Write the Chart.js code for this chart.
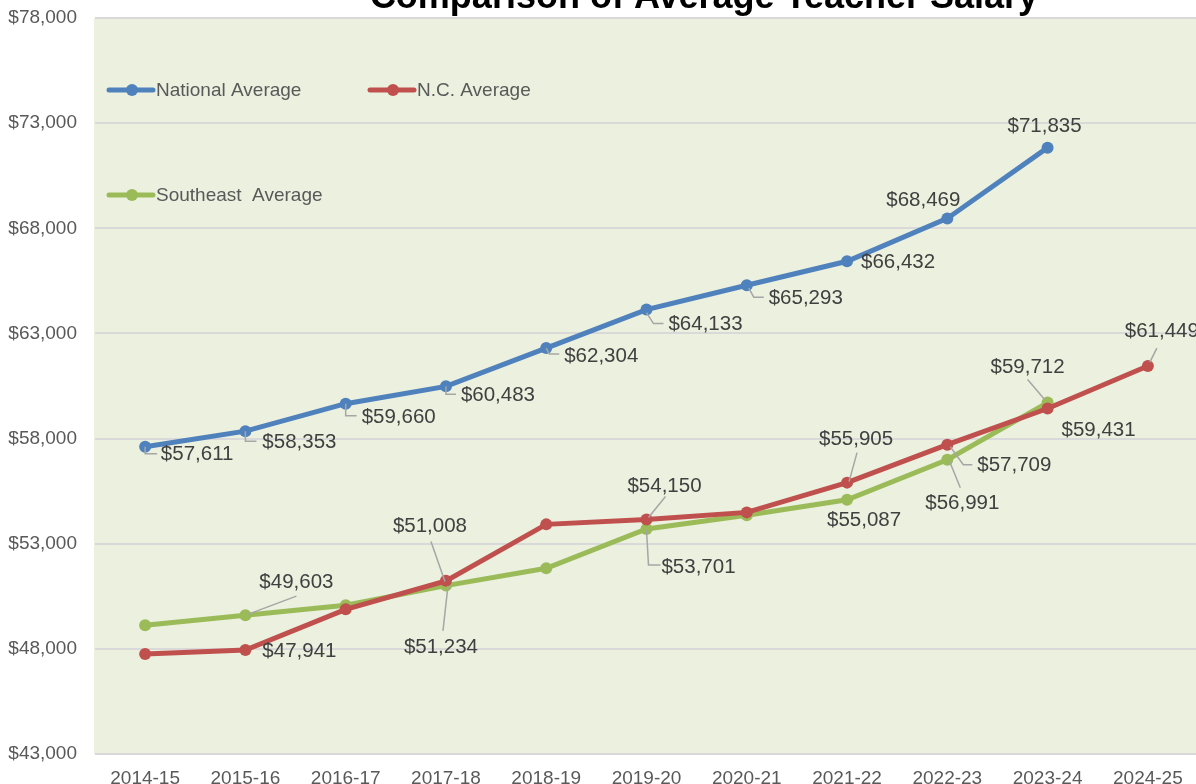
<!DOCTYPE html>
<html lang="en">
<head>
    <meta charset="UTF-8">
    <title>Comparison of Average Teacher Salary</title>
    <script src="https://cdn.jsdelivr.net/npm/chart.js"></script>
    <style>
        html, body {
            margin: 0;
            padding: 0;
            background: #ffffff;
            overflow: hidden;
        }
        #wrap {
            width: 1204px;
            height: 784px;
        }
    </style>
</head>
<body>

<div id="wrap">
    <canvas id="salaryChart" width="1204" height="784"></canvas>
</div>

<script>
// data
const years = ['2014-15', '2015-16', '2016-17', '2017-18', '2018-19', '2019-20',
               '2020-21', '2021-22', '2022-23', '2023-24', '2024-25'];
const nationalAvg = [57611, 58353, 59660, 60483, 62304, 64133, 65293, 66432, 68469, 71835, null];
const ncAvg = [47750, 47941, 49880, 51234, 53920, 54150, 54490, 55905, 57709, 59431, 61449];
const southeastAvg = [49125, 49603, 50075, 51008, 51830, 53701, 54350, 55087, 56991, 59712, null];
const yTicks = [43000, 48000, 53000, 58000, 63000, 68000, 73000, 78000];

const chartTitle = 'Comparison of Average Teacher Salary';
const seriesNames = ['National Average', 'N.C. Average', 'Southeast  Average'];

// which points carry a value label, and where it sits (offset from the point, optional leader)
const labelSpots = [
    [
        { dx: 52, dy: 8, lead: [[0, 0], [0, 7], [12, 7]] },
        { dx: 54, dy: 11, lead: [[0, 0], [0, 10], [11, 10]] },
        { dx: 53, dy: 14, lead: [[0, 0], [0, 12], [11, 12]] },
        { dx: 52, dy: 9, lead: [[0, 0], [0, 8], [10, 8]] },
        { dx: 55, dy: 8, lead: [[0, 0], [3, 6], [13, 6]] },
        { dx: 59, dy: 15, lead: [[0, 3], [7, 14], [17, 14]] },
        { dx: 59, dy: 13, lead: [[2, 3], [7, 12], [17, 12]] },
        { dx: 51, dy: 1 },
        { dx: -24, dy: -18 },
        { dx: -3, dy: -21 },
        null
    ],
    [
        null,
        { dx: 54, dy: 1 },
        null,
        { dx: -5, dy: 66, lead: [[-3, 50], [2, 5]] },
        null,
        { dx: 18, dy: -33, lead: [[19, -23], [2, -2]] },
        null,
        { dx: 9, dy: -43, lead: [[10, -30], [2, -1]] },
        { dx: 67, dy: 21, lead: [[3, 2], [16, 20], [25, 20]] },
        { dx: 51, dy: 22 },
        { dx: 14, dy: -35, lead: [[9, -18], [2, -4]] }
    ],
    [
        null,
        { dx: 51, dy: -33, lead: [[51, -19], [3, -1]] },
        null,
        { dx: -16, dy: -59, lead: [[-15, -44], [-1, -4]] },
        null,
        { dx: 52, dy: 38, lead: [[0, 1], [2, 36], [14, 36]] },
        null,
        { dx: 17, dy: 21 },
        { dx: 15, dy: 44, lead: [[2, 1], [13, 28]] },
        { dx: -20, dy: -35, lead: [[-20, -23], [-3, -3]] },
        null
    ]
];

const colors = ['#4F81BD', '#C0504D', '#9BBB59'];

function money(v) {
    return '$' + Number(v).toLocaleString('en-US');
}

// plot background, fill behind the grid
const plotBackground = {
    id: 'plotBackground',
    beforeDraw(chart) {
        const { ctx, chartArea } = chart;
        ctx.save();
        ctx.fillStyle = '#EBF0DF';
        ctx.fillRect(chartArea.left - 1, chartArea.top, chartArea.right - chartArea.left + 1, chartArea.bottom - chartArea.top);
        ctx.restore();
    }
};

// title (partly cut off at the top in the original) and the in-plot legend
const titleAndLegend = {
    id: 'titleAndLegend',
    afterDraw(chart) {
        const ctx = chart.ctx;
        ctx.save();
        ctx.fillStyle = '#000000';
        ctx.font = 'bold 36px "Liberation Sans", Arial, sans-serif';
        ctx.textAlign = 'center';
        ctx.textBaseline = 'alphabetic';
        ctx.fillText(chartTitle, 704, 8);

        const spots = [[109, 90], [370, 90], [109, 195]];
        ctx.font = '19px "Liberation Sans", Arial, sans-serif';
        ctx.textAlign = 'left';
        ctx.textBaseline = 'middle';
        spots.forEach(([x, y], i) => {
            ctx.strokeStyle = colors[i];
            ctx.lineWidth = 5;
            ctx.lineCap = 'round';
            ctx.beginPath();
            ctx.moveTo(x, y);
            ctx.lineTo(x + 44, y);
            ctx.stroke();
            ctx.fillStyle = colors[i];
            ctx.beginPath();
            ctx.arc(x + 23, y, 6, 0, Math.PI * 2);
            ctx.fill();
            ctx.fillStyle = '#595959';
            ctx.fillText(seriesNames[i], x + 47, y + 1);
        });
        ctx.restore();
    }
};

// value labels with their grey leader lines
const valueLabels = {
    id: 'valueLabels',
    afterDatasetsDraw(chart) {
        const ctx = chart.ctx;
        ctx.save();
        ctx.font = '20.5px "Liberation Sans", Arial, sans-serif';
        ctx.textAlign = 'center';
        ctx.textBaseline = 'middle';
        chart.data.datasets.forEach((ds, di) => {
            const meta = chart.getDatasetMeta(di);
            meta.data.forEach((pt, i) => {
                const spot = labelSpots[di][i];
                if (!spot || ds.data[i] === null) return;
                if (spot.lead) {
                    ctx.strokeStyle = '#A6A6A6';
                    ctx.lineWidth = 1.5;
                    ctx.beginPath();
                    spot.lead.forEach(([lx, ly], k) => {
                        if (k === 0) ctx.moveTo(pt.x + lx, pt.y + ly);
                        else ctx.lineTo(pt.x + lx, pt.y + ly);
                    });
                    ctx.stroke();
                }
                ctx.fillStyle = '#404040';
                ctx.fillText(money(ds.data[i]), pt.x + spot.dx, pt.y + spot.dy);
            });
        });
        ctx.restore();
    }
};

const ctx = document.getElementById('salaryChart').getContext('2d');

const datasets = [nationalAvg, ncAvg, southeastAvg].map((values, i) => ({
    label: seriesNames[i],
    data: values,
    borderColor: colors[i],
    backgroundColor: colors[i],
    borderWidth: 5,
    pointRadius: 6,
    pointHoverRadius: 6,
    pointBorderWidth: 0,
    tension: 0,
    fill: false,
    clip: false
}));

new Chart(ctx, {
    type: 'line',
    data: {
        labels: years,
        datasets: datasets
    },
    options: {
        responsive: false,
        animation: false,
        layout: {
            padding: { top: 18, right: 3, left: 0, bottom: 0 }
        },
        plugins: {
            legend: { display: false },
            title: { display: false },
            tooltip: { enabled: false }
        },
        scales: {
            x: {
                offset: true,
                grid: { display: false, drawTicks: false },
                border: { display: false },
                ticks: {
                    color: '#595959',
                    padding: 13,
                    maxRotation: 0,
                    font: { family: '"Liberation Sans", Arial, sans-serif', size: 19 }
                },
                afterFit(scale) {
                    scale.height = 30;
                }
            },
            y: {
                min: yTicks[0],
                max: yTicks[yTicks.length - 1],
                afterBuildTicks(scale) {
                    scale.ticks = yTicks.map(v => ({ value: v }));
                },
                grid: {
                    color: '#D9D9D9',
                    lineWidth: 2,
                    drawTicks: false
                },
                border: { display: false },
                ticks: {
                    color: '#595959',
                    padding: 18,
                    font: { family: '"Liberation Sans", Arial, sans-serif', size: 19 },
                    callback: function(value) {
                        return money(value);
                    }
                },
                afterFit(scale) {
                    scale.width = 95;
                    scale.paddingTop = 0;
                    scale.paddingBottom = 0;
                }
            }
        }
    },
    plugins: [plotBackground, titleAndLegend, valueLabels]
});
</script>

</body>
</html>
